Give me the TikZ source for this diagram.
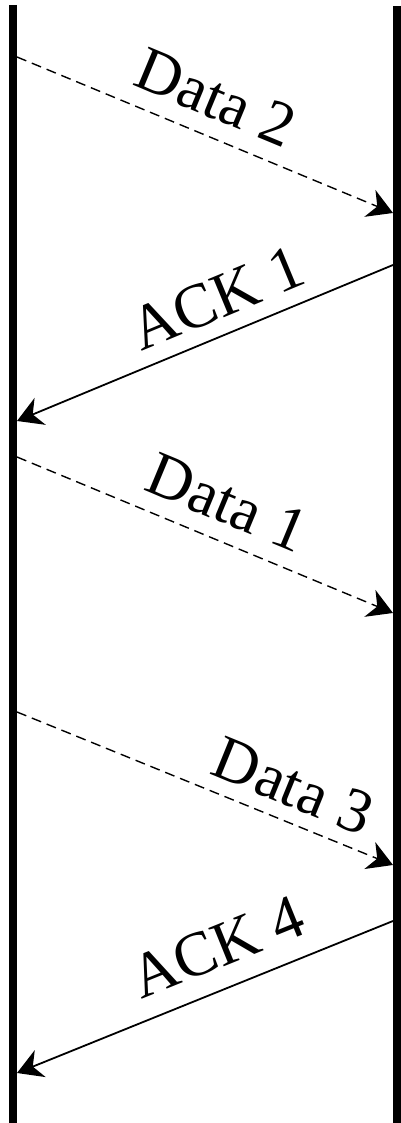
\documentclass[tikz,border=0pt]{standalone}
\usepackage{fontspec}
\setmainfont{Liberation Serif}
\usetikzlibrary{arrows.meta}
\begin{document}
\begin{tikzpicture}[x=1pt,y=1pt,
  lifeline/.style={line width=8pt},
  datamsg/.style={line width=1.4pt, dash pattern=on 10pt off 6pt, -{Stealth[length=25pt,width=29pt,inset=8pt]}},
  ackmsg/.style={line width=1.8pt, {Stealth[length=25pt,width=29pt,inset=8pt]}-},
  lab/.style={sloped, anchor=base, yshift=18pt, inner sep=0pt, font=\fontsize{63}{70}\selectfont}
]
\useasboundingbox (0,0) rectangle (400,1123);
% lifelines
\coordinate (Ltop) at (13,1118);
\coordinate (Lbot) at (13,-5);
\coordinate (Rtop) at (397,1117);
\coordinate (Rbot) at (397,-5);
\draw[lifeline] (Ltop) -- (Lbot);
\draw[lifeline] (Rtop) -- (Rbot);
% message end points
\coordinate (d2s) at (17,1066);
\coordinate (d2e) at (393,910);
\coordinate (a1s) at (393,858);
\coordinate (a1e) at (17,702);
\coordinate (d1s) at (17,666);
\coordinate (d1e) at (393,510);
\coordinate (d3s) at (17,411);
\coordinate (d3e) at (393,258);
\coordinate (a4s) at (393,202);
\coordinate (a4e) at (17,50);
% messages
\draw[datamsg] (d2s) -- node[lab, pos=0.49] (t1) {Data 2} (d2e);
\draw[ackmsg] (a1e) -- node[lab, pos=0.57, yshift=-2pt] (t2) {ACK 1} (a1s);
\draw[datamsg] (d1s) -- node[lab, pos=0.52] (t3) {Data 1} (d1e);
\draw[datamsg] (d3s) -- node[lab, pos=0.70, yshift=-3pt] (t4) {Data 3} (d3e);
\draw[ackmsg] (a4e) -- node[lab, pos=0.575, yshift=3pt] (t5) {ACK 4} (a4s);
\end{tikzpicture}
\end{document}
